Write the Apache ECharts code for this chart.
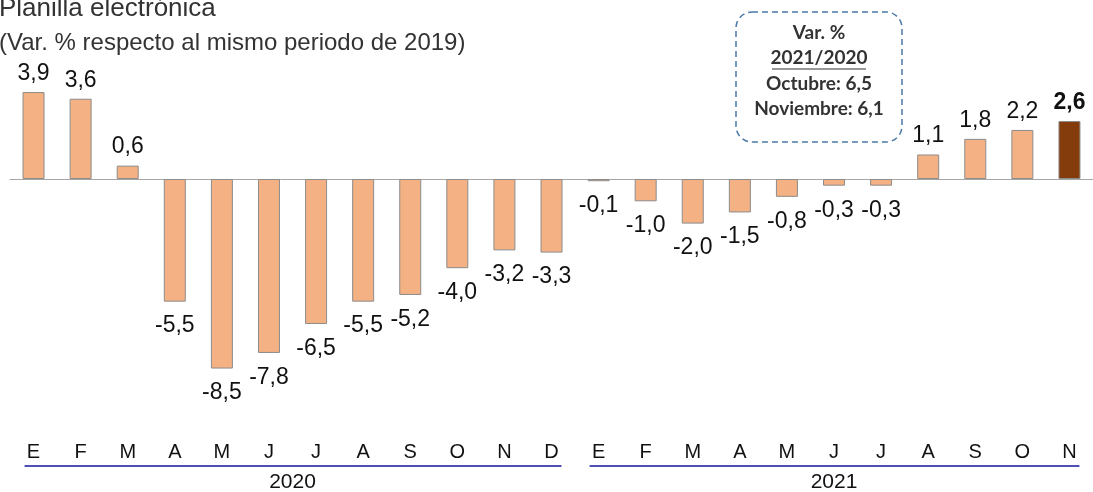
<!DOCTYPE html>
<html>
<head>
<meta charset="utf-8">
<script src="https://cdn.jsdelivr.net/npm/echarts@6/dist/echarts.min.js"></script>
<style>
html,body{margin:0;padding:0;background:#fff;}
#c{width:1093px;height:492px;}
</style>
</head>
<body>
<div id="c"></div>
<script>
const months = ['E','F','M','A','M','J','J','A','S','O','N','D','E','F','M','A','M','J','J','A','S','O','N'];
const values = [3.9,3.6,0.6,-5.5,-8.5,-7.8,-6.5,-5.5,-5.2,-4.0,-3.2,-3.3,-0.1,-1.0,-2.0,-1.5,-0.8,-0.3,-0.3,1.1,1.8,2.2,2.6];
const years = ['2020','2021'];
const yearSpans = [[0,11],[12,22]];
const titleText = 'Planilla electrónica';
const subtitleText = '(Var. % respecto al mismo periodo de 2019)';
const noteLines = ['Var. %','2021/2020','Octubre: 6,5','Noviembre: 6,1'];

const FONT = '"Liberation Sans", Arial, sans-serif';
const fill = '#F4B183';
const lastFill = '#843C0C';
const fmt = v => v.toFixed(1).replace('.', ',');

const seriesData = values.map((v, i) => {
  const last = i === values.length - 1;
  return {
    value: v,
    itemStyle: { color: last ? lastFill : fill },
    label: {
      position: v >= 0 ? 'top' : 'bottom',
      distance: v >= 0 ? 7 : 13,
      fontWeight: last ? 'bold' : 'normal'
    }
  };
});

const chart = echarts.init(document.getElementById('c'), null, { renderer: 'canvas' });
chart.setOption({
  animation: false,
  backgroundColor: '#fff',
  grid: { left: 10, top: 67.5, width: 1092, height: 334.5, containLabel: false },
  xAxis: [
    {
      type: 'category', data: months,
      axisLine: { onZero: true, lineStyle: { color: '#A6A6A6', width: 1 } },
      axisTick: { show: false }, axisLabel: { show: false }
    },
    {
      type: 'category', data: months, position: 'bottom',
      axisLine: { show: false }, axisTick: { show: false },
      axisLabel: { show: true, margin: 40, color: '#111', fontSize: 20, fontFamily: FONT }
    }
  ],
  yAxis: { type: 'value', min: -10, max: 5, show: false, splitLine: { show: false } },
  series: [{
    type: 'bar', xAxisIndex: 0, data: seriesData, barWidth: 22,
    itemStyle: { borderColor: '#8C8C8C', borderWidth: 1 },
    label: { show: true, color: '#111', fontSize: 23, fontFamily: FONT, formatter: p => fmt(p.value) }
  }]
});

const g = [];
g.push({ type: 'text', x: -1, y: 9, style: { text: titleText, font: '26px ' + FONT, fill: '#333', verticalAlign: 'middle' } });
g.push({ type: 'text', x: -1, y: 43, style: { text: subtitleText, font: '24px ' + FONT, fill: '#333', verticalAlign: 'middle' } });

yearSpans.forEach((s, k) => {
  const x0 = chart.convertToPixel({ xAxisIndex: 0 }, s[0]);
  const x1 = chart.convertToPixel({ xAxisIndex: 0 }, s[1]);
  g.push({ type: 'line', shape: { x1: x0 - 9, y1: 466, x2: x1 + 10, y2: 466 }, style: { stroke: '#1414A0', lineWidth: 1.5 } });
  g.push({ type: 'text', x: (x0 + x1) / 2, y: 482, style: { text: years[k], font: '21px ' + FONT, fill: '#111', align: 'center', verticalAlign: 'middle' } });
});

// annotation box
g.push({ type: 'rect', shape: { x: 736, y: 12, width: 166, height: 130, r: 16 },
  style: { fill: 'none', stroke: '#4A78A8', lineWidth: 1.5, lineDash: [6, 4] } });
const noteY = [33, 58, 84, 109];
const NFONT = 'bold 19px Lato, "Open Sans", sans-serif';
noteLines.forEach((t, i) => {
  g.push({ type: 'text', x: 819, y: noteY[i], style: { text: t, font: NFONT, fill: '#333', align: 'center', verticalAlign: 'middle' } });
});
g.push({ type: 'line', shape: { x1: 772, y1: 69, x2: 866, y2: 69 }, style: { stroke: '#333', lineWidth: 1.2 } });

chart.setOption({ graphic: g });
</script>
</body>
</html>
